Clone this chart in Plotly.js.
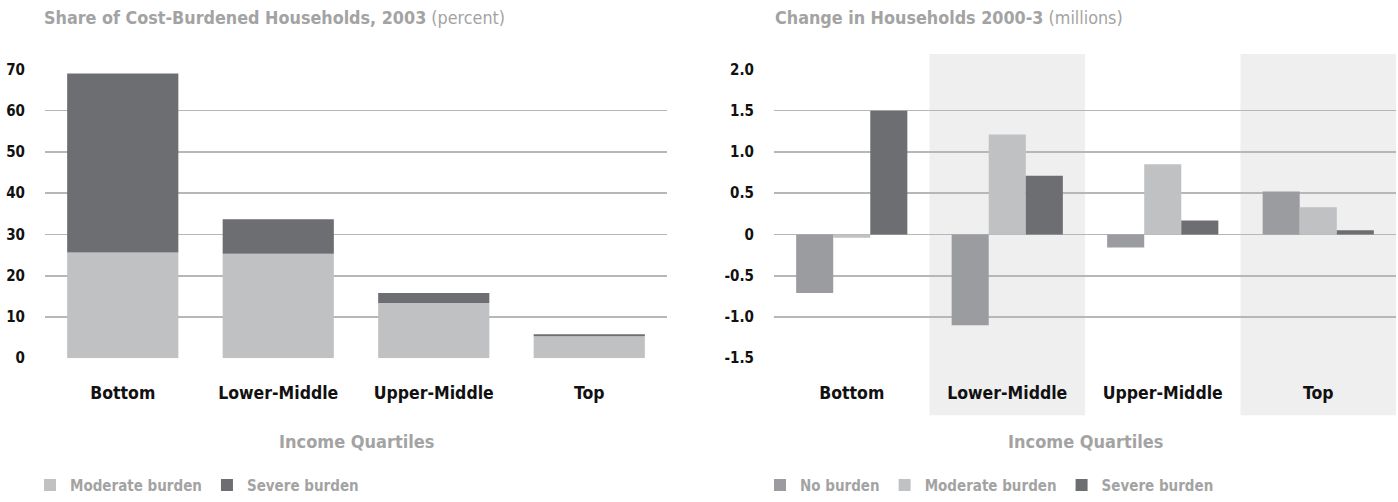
<!DOCTYPE html>
<html><head><meta charset="utf-8">
<script src="https://cdn.plot.ly/plotly-3.0.1.min.js"></script>
<style>body{margin:0;background:#fff}#chart{width:1398px;height:502px}</style>
</head><body><div id="chart"></div>
<script>
// ---- data ----
const quartiles = ["Bottom", "Lower-Middle", "Upper-Middle", "Top"];
const shareModerate = [25.6, 25.3, 13.4, 5.3];
const shareSevere = [43.4, 8.4, 2.4, 0.5];
const changeNone = [-0.71, -1.10, -0.16, 0.52];
const changeModerate = [-0.04, 1.21, 0.85, 0.33];
const changeSevere = [1.50, 0.71, 0.17, 0.05];
const leftTickVals = [0, 10, 20, 30, 40, 50, 60, 70];
const leftTickText = ["0", "10", "20", "30", "40", "50", "60", "70"];
const rightTickVals = [-1.5, -1.0, -0.5, 0, 0.5, 1.0, 1.5, 2.0];
const rightTickText = ["-1.5", "-1.0", "-0.5", "0", "0.5", "1.0", "1.5", "2.0"];
const shadedQuartiles = ["Lower-Middle", "Top"];
const leftTitleBold = "Share of Cost-Burdened Households, 2003";
const leftTitleUnit = "(percent)";
const rightTitleBold = "Change in Households 2000-3";
const rightTitleUnit = "(millions)";
const xAxisTitle = "Income Quartiles";

// ---- styling ----
const FONT = "'Liberation Sans Narrow', 'DejaVu Sans Condensed', 'Arial Narrow', sans-serif";
const C_NONE = "#9b9c9f", C_MOD = "#c0c1c3", C_SEV = "#6d6e71";
const GRAY_TXT = "#a3a3a3";
const W = 1398, H = 502;
const px = v => v / W, py = v => (H - v) / H;

const traces = [
  {type: "bar", x: quartiles, y: shareModerate, name: "Moderate burden", marker: {color: C_MOD},
   xaxis: "x", yaxis: "y", offsetgroup: "L", legend: "legend", hoverinfo: "y"},
  {type: "bar", x: quartiles, y: shareSevere, base: shareModerate, name: "Severe burden", marker: {color: C_SEV},
   xaxis: "x", yaxis: "y", offsetgroup: "L", legend: "legend", hoverinfo: "y"},
  {type: "bar", x: quartiles, y: changeNone, name: "No burden", marker: {color: C_NONE},
   xaxis: "x2", yaxis: "y2", legend: "legend2"},
  {type: "bar", x: quartiles, y: changeModerate, name: "Moderate burden", marker: {color: C_MOD},
   xaxis: "x2", yaxis: "y2", legend: "legend2"},
  {type: "bar", x: quartiles, y: changeSevere, name: "Severe burden", marker: {color: C_SEV},
   xaxis: "x2", yaxis: "y2", legend: "legend2"}
];

const yDom = [py(364), py(70.5)];
const xCommon = {
  type: "category", showgrid: false, zeroline: false, showline: false,
  ticks: "outside", ticklen: 19, tickcolor: "rgba(0,0,0,0)",
  tickfont: {family: FONT, size: 17.5, color: "#111", weight: "bold"}, fixedrange: true
};
const yCommon = {
  showgrid: true, gridcolor: "#b7b7b7", gridwidth: 1.7, zeroline: false, showline: false,
  ticks: "outside", ticklen: 16, tickcolor: "rgba(0,0,0,0)", tickmode: "array",
  tickfont: {family: FONT, size: 15, color: "#111", weight: "bold"}, fixedrange: true
};

const shapes = shadedQuartiles.map(q => {
  const i = quartiles.indexOf(q);
  return {type: "rect", xref: "x2", yref: "paper", x0: i - 0.5, x1: i + 0.5 + (i === quartiles.length - 1 ? 0.02 : 0),
          y0: py(422), y1: py(55), fillcolor: "#eeefee", line: {width: 0}, layer: "below"};
});

const legendCommon = {orientation: "h", yanchor: "middle", y: py(493), xanchor: "left",
  font: {family: FONT, size: 15, color: GRAY_TXT, weight: "bold"}, bgcolor: "rgba(0,0,0,0)",
  traceorder: "normal", itemclick: false, itemdoubleclick: false};

const layout = {
  width: W, height: H, margin: {l: 0, r: 0, t: 0, b: 0},
  paper_bgcolor: "#fff", plot_bgcolor: "rgba(0,0,0,0)",
  barmode: "group", bargap: 0.285, bargroupgap: 0,
  showlegend: true,
  xaxis: Object.assign({}, xCommon, {domain: [px(45), px(667)], anchor: "y", range: [-0.5, 3.5]}),
  yaxis: Object.assign({}, yCommon, {domain: yDom, anchor: "x", range: [0, 70], tickvals: leftTickVals, ticktext: leftTickText}),
  xaxis2: Object.assign({}, xCommon, {domain: [px(774), px(1396)], anchor: "y2", range: [-0.5, 3.5]}),
  yaxis2: Object.assign({}, yCommon, {domain: yDom, anchor: "x2", range: [-1.5, 2.0], tickvals: rightTickVals, ticktext: rightTickText}),
  legend: Object.assign({}, legendCommon, {x: px(30)}),
  legend2: Object.assign({}, legendCommon, {x: px(760)}),
  shapes: shapes,
  annotations: [
    {xref: "paper", yref: "paper", x: px(42), y: py(18), xanchor: "left", yanchor: "middle", showarrow: false,
     text: "<b>" + leftTitleBold + "</b> " + leftTitleUnit, font: {family: FONT, size: 17.8, color: GRAY_TXT}},
    {xref: "paper", yref: "paper", x: px(773), y: py(18), xanchor: "left", yanchor: "middle", showarrow: false,
     text: "<b>" + rightTitleBold + "</b> " + rightTitleUnit, font: {family: FONT, size: 17.8, color: GRAY_TXT}},
    {xref: "x domain", yref: "paper", x: 0.5, y: py(449), xanchor: "center", yanchor: "middle", showarrow: false,
     text: "<b>" + xAxisTitle + "</b>", font: {family: FONT, size: 18, color: GRAY_TXT}},
    {xref: "x2 domain", yref: "paper", x: 0.5, y: py(449), xanchor: "center", yanchor: "middle", showarrow: false,
     text: "<b>" + xAxisTitle + "</b>", font: {family: FONT, size: 18, color: GRAY_TXT}}
  ]
};

Plotly.newPlot("chart", traces, layout, {displayModeBar: false, staticPlot: true});
</script></body></html>
